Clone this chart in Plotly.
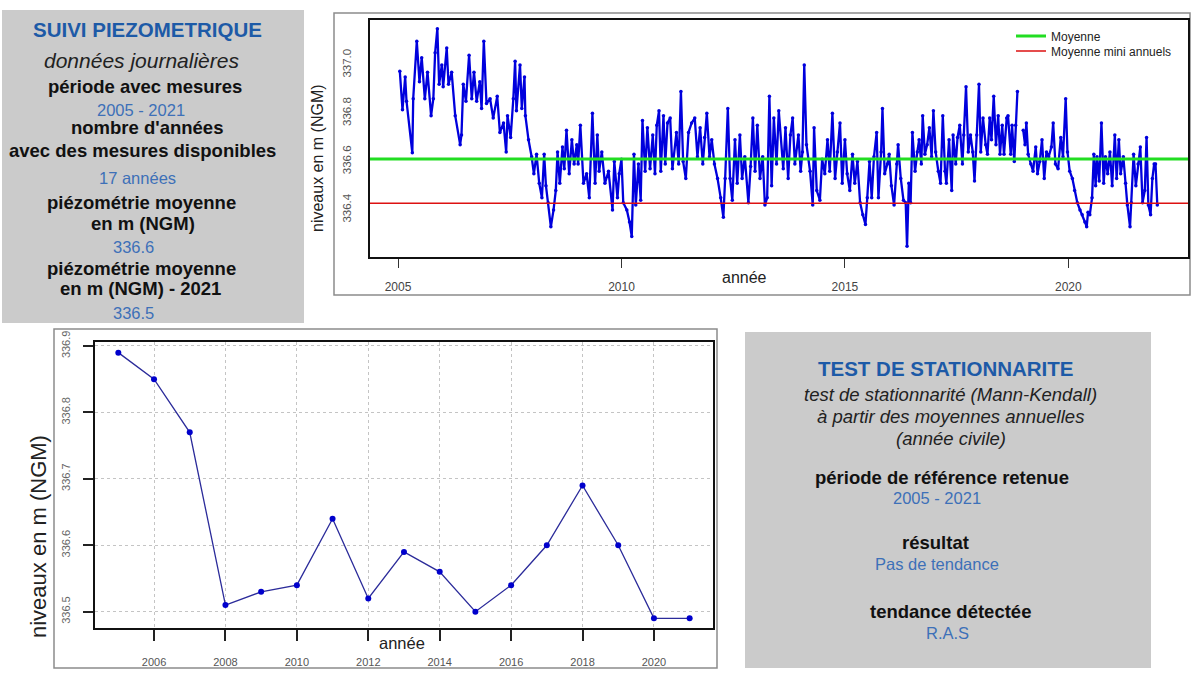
import plotly.graph_objects as go

# ---------------- data ----------------
daily_years = [
    2005.04, 2005.10, 2005.16, 2005.19, 2005.32, 2005.34, 2005.42, 2005.48, 2005.53, 2005.60,
    2005.66, 2005.74, 2005.79, 2005.83, 2005.88, 2005.92, 2005.98, 2006.01, 2006.09, 2006.13,
    2006.20, 2006.28, 2006.39, 2006.42, 2006.46, 2006.52, 2006.59, 2006.65, 2006.70, 2006.76,
    2006.83, 2006.87, 2006.92, 2006.98, 2007.06, 2007.13, 2007.22, 2007.28, 2007.36, 2007.42,
    2007.45, 2007.52, 2007.58, 2007.62, 2007.65, 2007.73, 2007.77, 2007.83, 2007.85, 2007.92,
    2007.99, 2008.04, 2008.10, 2008.16, 2008.22, 2008.27, 2008.31, 2008.36, 2008.42, 2008.48,
    2008.53, 2008.57, 2008.62, 2008.68, 2008.72, 2008.77, 2008.83, 2008.89, 2008.94, 2009.00,
    2009.03, 2009.08,
    2009.15, 2009.22, 2009.28, 2009.35, 2009.41, 2009.46, 2009.50, 2009.56, 2009.63, 2009.71,
    2009.80, 2009.84, 2009.91, 2009.95, 2010.00, 2010.04, 2010.12, 2010.18, 2010.23, 2010.28,
    2010.32, 2010.38, 2010.43, 2010.47, 2010.53, 2010.58, 2010.64, 2010.70, 2010.75, 2010.79,
    2010.84, 2010.88, 2010.94, 2010.98, 2011.03, 2011.09, 2011.14, 2011.23, 2011.28, 2011.33,
    2011.38, 2011.44, 2011.50, 2011.57, 2011.64, 2011.70, 2011.76, 2011.82, 2011.86, 2011.91,
    2011.97, 2012.02, 2012.08, 2012.15, 2012.22, 2012.28, 2012.32, 2012.38, 2012.43, 2012.48,
    2012.54, 2012.59, 2012.65, 2012.70, 2012.76, 2012.84, 2012.89, 2012.94, 2012.99, 2013.04,
    2013.10, 2013.16, 2013.21, 2013.26, 2013.31, 2013.36, 2013.41, 2013.47, 2013.52,
    2013.62, 2013.67, 2013.73, 2013.78, 2013.83, 2013.88, 2013.96, 2014.01, 2014.05, 2014.09,
    2014.14, 2014.22, 2014.28, 2014.31, 2014.37, 2014.44, 2014.49, 2014.55, 2014.61, 2014.66,
    2014.72, 2014.78, 2014.83, 2014.89, 2014.94, 2015.00, 2015.05, 2015.11, 2015.17, 2015.22,
    2015.28, 2015.34, 2015.40, 2015.46, 2015.50, 2015.55, 2015.60, 2015.65, 2015.71, 2015.75,
    2015.81, 2015.84, 2015.89, 2015.95, 2015.99, 2016.04, 2016.10, 2016.16, 2016.19, 2016.25,
    2016.31, 2016.36, 2016.39, 2016.43, 2016.47, 2016.51, 2016.57, 2016.62, 2016.66, 2016.71,
    2016.74, 2016.79, 2016.84, 2016.89, 2016.94, 2016.98, 2017.03, 2017.09, 2017.14, 2017.19,
    2017.24, 2017.27, 2017.33, 2017.39, 2017.42, 2017.48, 2017.52, 2017.57, 2017.63, 2017.66,
    2017.71, 2017.76, 2017.81, 2017.86, 2017.90, 2017.95,
    2018.00, 2018.04, 2018.09, 2018.15, 2018.19, 2018.24, 2018.28, 2018.33, 2018.38, 2018.43,
    2018.47, 2018.52, 2018.56, 2018.62, 2018.65, 2018.71, 2018.74, 2018.79, 2018.82, 2018.86,
    2018.92,
    2018.99, 2019.03, 2019.06, 2019.10, 2019.16, 2019.21, 2019.27, 2019.31, 2019.36, 2019.41,
    2019.46, 2019.51, 2019.56, 2019.62, 2019.66, 2019.71, 2019.77, 2019.83, 2019.88, 2019.94,
    2019.98, 2020.03, 2020.09, 2020.14, 2020.20, 2020.26, 2020.31, 2020.37, 2020.41, 2020.44,
    2020.48, 2020.53, 2020.57, 2020.61, 2020.64, 2020.69, 2020.74, 2020.79, 2020.83, 2020.88,
    2020.93, 2020.98, 2021.04, 2021.08, 2021.13, 2021.17, 2021.23, 2021.28, 2021.32, 2021.38,
    2021.41, 2021.46, 2021.51, 2021.56, 2021.61, 2021.66, 2021.71, 2021.75, 2021.79, 2021.84,
    2021.88, 2021.92, 2021.95, 2021.99,
]
daily_levels = [
    336.974, 336.815, 336.95, 336.85, 336.636, 336.86, 337.098, 336.93, 337.03, 336.86,
    336.97, 336.79, 336.86, 337.05, 337.15, 336.92, 337.00, 336.91, 337.07, 336.92,
    336.97, 336.79, 336.67, 336.71, 336.92, 336.85, 337.04, 336.86, 336.97, 336.85,
    336.93, 336.82, 337.098, 336.84, 336.86, 336.78, 336.87, 336.72, 336.76, 336.64,
    336.79, 336.70, 336.86, 337.015, 336.81, 337.00, 336.82, 336.95, 336.79, 336.69,
    336.62, 336.55, 336.63, 336.51, 336.45, 336.63, 336.50, 336.43, 336.33, 336.40,
    336.48, 336.64, 336.51, 336.66, 336.57, 336.73, 336.55, 336.69, 336.59, 336.67,
    336.59, 336.75,
    336.51, 336.55, 336.45, 336.80, 336.51, 336.71, 336.56, 336.64, 336.51, 336.56,
    336.40, 336.60, 336.45, 336.55, 336.61, 336.43, 336.40, 336.35, 336.29, 336.63,
    336.42, 336.59, 336.44, 336.77, 336.56, 336.74, 336.57, 336.71, 336.55, 336.75,
    336.81, 336.56, 336.79, 336.59, 336.76, 336.78, 336.57, 336.72, 336.59, 336.89,
    336.60, 336.53, 336.72, 336.76, 336.78, 336.62, 336.74, 336.59, 336.70, 336.80,
    336.62, 336.69, 336.59, 336.53, 336.45, 336.37, 336.53, 336.82, 336.53, 336.44,
    336.69, 336.51, 336.71, 336.53, 336.62, 336.43, 336.58, 336.78, 336.56, 336.75,
    336.53, 336.62, 336.42, 336.45, 336.87, 336.50, 336.78, 336.59, 336.81,
    336.57, 336.74, 336.53, 336.71, 336.78, 336.59, 336.71, 336.56, 336.64, 337.00,
    336.67, 336.56, 336.42, 336.74, 336.48, 336.44, 336.61, 336.55, 336.69, 336.56,
    336.80, 336.53, 336.64, 336.76, 336.51, 336.69, 336.55, 336.48, 336.63, 336.51,
    336.60, 336.43, 336.38, 336.34, 336.45, 336.60, 336.45, 336.62, 336.72, 336.45,
    336.64, 336.82, 336.55, 336.59, 336.63, 336.50, 336.42, 336.59, 336.67, 336.53,
    336.44, 336.43, 336.25, 336.51, 336.43, 336.72, 336.56, 336.64, 336.69, 336.59,
    336.79, 336.63, 336.67, 336.74, 336.62, 336.81, 336.64, 336.56, 336.51, 336.79,
    336.56, 336.51, 336.69, 336.48, 336.71, 336.59, 336.70, 336.75, 336.59, 336.71,
    336.91, 336.64, 336.71, 336.64, 336.52, 336.71,
    336.92, 336.64, 336.78, 336.67, 336.63, 336.78, 336.69, 336.87, 336.67, 336.79,
    336.63, 336.75, 336.63, 336.78, 336.79, 336.63, 336.75, 336.60, 336.75, 336.89,
    None,
    336.73, 336.67, 336.76, 336.63, 336.59, 336.56, 336.66, 336.55, 336.60, 336.69,
    336.53, 336.64, 336.62, 336.66, 336.76, 336.59, 336.57, 336.70, 336.62, 336.86,
    336.64, 336.56, 336.53, 336.48, 336.43, 336.40, 336.38, 336.35, 336.33, 336.39,
    336.38, 336.45, 336.63, 336.50, 336.62, 336.52, 336.76, 336.51, 336.62, 336.55,
    336.64, 336.50, 336.71, 336.53, 336.69, 336.55, 336.62, 336.51, 336.42, 336.33,
    336.43, 336.63, 336.50, 336.59, 336.66, 336.43, 336.48, 336.70, 336.42, 336.38,
    336.53, 336.59, 336.59, 336.42,
]
mean_level = 336.611
mean_annual_min = 336.428

annual_years = list(range(2005, 2022))
annual_means = [336.89, 336.85, 336.77, 336.51, 336.53, 336.54, 336.64, 336.52, 336.59,
                336.56, 336.50, 336.54, 336.60, 336.69, 336.60, 336.49, 336.49]

top_xticks = [2005, 2010, 2015, 2020]
top_yticks = [336.4, 336.6, 336.8, 337.0]
bot_xticks = [2006, 2008, 2010, 2012, 2014, 2016, 2018, 2020]
bot_yticks = [336.5, 336.6, 336.7, 336.8, 336.9]

# ---------------- layout helpers ----------------
W, H = 1192, 675
FONT = "Liberation Sans, Arial, sans-serif"
BLUE_T = "#1d5aa7"
BLUE_V = "#3d70b8"
GREY_BOX = "#cbcbcb"


def px(x):
    return x / W


def py(y):
    return 1 - y / H


fig = go.Figure()

fig.add_trace(go.Scatter(
    x=daily_years, y=daily_levels, mode="lines+markers",
    line=dict(color="#0000dd", width=2.3), marker=dict(color="#0000dd", size=3.5),
    connectgaps=False, showlegend=False, xaxis="x", yaxis="y", hoverinfo="skip"))

fig.add_trace(go.Scatter(
    x=annual_years, y=annual_means, mode="lines+markers",
    line=dict(color="#2b2b9a", width=1.3), marker=dict(color="#0000cc", size=6),
    showlegend=False, xaxis="x2", yaxis="y2"))

shapes = [
    dict(type="rect", xref="paper", yref="paper", x0=px(2), x1=px(304), y0=py(323), y1=py(10),
         fillcolor=GREY_BOX, line=dict(width=0), layer="below"),
    dict(type="rect", xref="paper", yref="paper", x0=px(745), x1=px(1151), y0=py(668), y1=py(332),
         fillcolor=GREY_BOX, line=dict(width=0), layer="below"),
    dict(type="rect", xref="paper", yref="paper", x0=px(334), x1=px(1190), y0=py(295), y1=py(13),
         line=dict(color="#8c8c8c", width=1.5), layer="below"),
    dict(type="rect", xref="paper", yref="paper", x0=px(54), x1=px(717), y0=py(668), y1=py(329),
         line=dict(color="#8c8c8c", width=1.5), layer="below"),
    dict(type="line", xref="x domain", yref="y", x0=0, x1=1, y0=mean_level, y1=mean_level,
         line=dict(color="#22dd22", width=3), showlegend=True, name="Moyenne", legend="legend"),
    dict(type="line", xref="x domain", yref="y", x0=0, x1=1, y0=mean_annual_min, y1=mean_annual_min,
         line=dict(color="#dd1111", width=1.5), showlegend=True, name="Moyenne mini annuels",
         legend="legend2"),
]

annots = []


def txt(t, x, y, size, color="#111", angle=0):
    annots.append(dict(text=t, x=px(x), y=py(y), xref="paper", yref="paper",
                       xanchor="center", yanchor="middle", showarrow=False, textangle=angle,
                       font=dict(family=FONT, size=size, color=color)))


# left box
txt("<b>SUIVI PIEZOMETRIQUE</b>", 147, 30, 20.5, BLUE_T)
txt("<i>données journalières</i>", 141, 61, 21, "#222")
txt("<b>période avec mesures</b>", 145, 86, 18.5)
txt("2005 - 2021", 141, 110, 16.5, BLUE_V)
txt("<b>nombre d'années</b>", 147, 128, 18.5)
txt("<b>avec des mesures disponibles</b>", 142, 150, 18.5)
txt("17 années", 137, 178, 16.5, BLUE_V)
txt("<b>piézométrie moyenne</b>", 141, 202, 18.5)
txt("<b>en m (NGM)</b>", 143, 223, 18.5)
txt("336.6", 133, 247, 16.5, BLUE_V)
txt("<b>piézométrie moyenne</b>", 141, 268, 18.5)
txt("<b>en m (NGM) - 2021</b>", 140, 288, 18.5)
txt("336.5", 133, 313, 16.5, BLUE_V)

# right box
txt("<b>TEST DE STATIONNARITE</b>", 946, 368, 20.5, BLUE_T)
txt("<i>test de stationnarité (Mann-Kendall)</i>", 951, 395, 18.5, "#222")
txt("<i>à partir des moyennes annuelles</i>", 951, 416, 18.5, "#222")
txt("<i>(année civile)</i>", 951, 438, 18.5, "#222")
txt("<b>période de référence retenue</b>", 942, 477, 18.5)
txt("2005 - 2021", 937, 498, 16.5, BLUE_V)
txt("<b>résultat</b>", 935, 542, 18.5)
txt("Pas de tendance", 937, 564, 16.5, BLUE_V)
txt("<b>tendance détectée</b>", 951, 611, 18.5)
txt("R.A.S", 947, 633, 16.5, BLUE_V)

# axis titles
txt("niveaux en m (NGM)", 317, 158, 16, "#222", -90)
txt("année", 744, 277, 16, "#222")
txt("niveaux en m (NGM)", 38, 537, 22, "#222", -90)
txt("année", 402, 643, 16.5, "#222")

axis_common = dict(showline=True, mirror=True, linecolor="#111", linewidth=2, zeroline=False,
                   automargin=False)
legend_common = dict(xanchor="left", yanchor="middle", bgcolor="rgba(0,0,0,0)",
                     font=dict(family=FONT, size=12, color="#222"), itemwidth=30)

fig.update_layout(
    width=W, height=H, margin=dict(l=0, r=0, t=0, b=0, pad=0, autoexpand=False),
    paper_bgcolor="white", plot_bgcolor="white",
    font=dict(family=FONT),
    shapes=shapes, annotations=annots,
    xaxis=dict(domain=[px(370), px(1188)], anchor="y", range=[2004.373, 2022.677],
               tickvals=top_xticks, ticktext=[str(v) for v in top_xticks],
               ticks="outside", ticklen=9, tickwidth=1.3, tickcolor="#333",
               showgrid=False, tickfont=dict(size=12, color="#444"), ticklabelstandoff=9,
               **axis_common),
    yaxis=dict(domain=[py(257), py(20)], anchor="x", range=[336.205, 337.186],
               tickvals=top_yticks, ticktext=[f"{v:.1f}" for v in top_yticks],
               ticks="", tickangle=-90, showgrid=False,
               tickfont=dict(size=11.5, color="#555"), ticklabelstandoff=12,
               **axis_common),
    xaxis2=dict(domain=[px(95), px(713)], anchor="y2", range=[2004.347, 2021.654],
                tickvals=bot_xticks, ticktext=[str(v) for v in bot_xticks],
                ticks="outside", ticklen=11, tickwidth=1.5, tickcolor="#222",
                showgrid=True, gridcolor="#c4c4c4", griddash="dot", gridwidth=1,
                tickfont=dict(size=11, color="#555"), ticklabelstandoff=12,
                **axis_common),
    yaxis2=dict(domain=[py(628), py(342)], anchor="x2", range=[336.4755, 336.906],
                tickvals=bot_yticks, ticktext=[f"{v:.1f}" for v in bot_yticks],
                ticks="outside", ticklen=10, tickwidth=1.5, tickcolor="#222", tickangle=-90,
                showgrid=True, gridcolor="#c4c4c4", griddash="dot", gridwidth=1,
                tickfont=dict(size=11, color="#666"), ticklabelstandoff=9,
                **axis_common),
    legend=dict(x=px(1011), y=py(36), **legend_common),
    legend2=dict(x=px(1011), y=py(51), **legend_common),
    showlegend=True,
)

pin_page = (
    "document.documentElement.style.margin='0';"
    "document.documentElement.style.overflow='hidden';"
    "document.body.style.margin='0';"
    "document.body.style.overflow='hidden';"
    "var g=document.getElementById('{plot_id}');"
    "g.style.position='fixed';g.style.left='0px';g.style.top='0px';"
)

fig.write_html("out.html", post_script=pin_page, config={"displayModeBar": False})
